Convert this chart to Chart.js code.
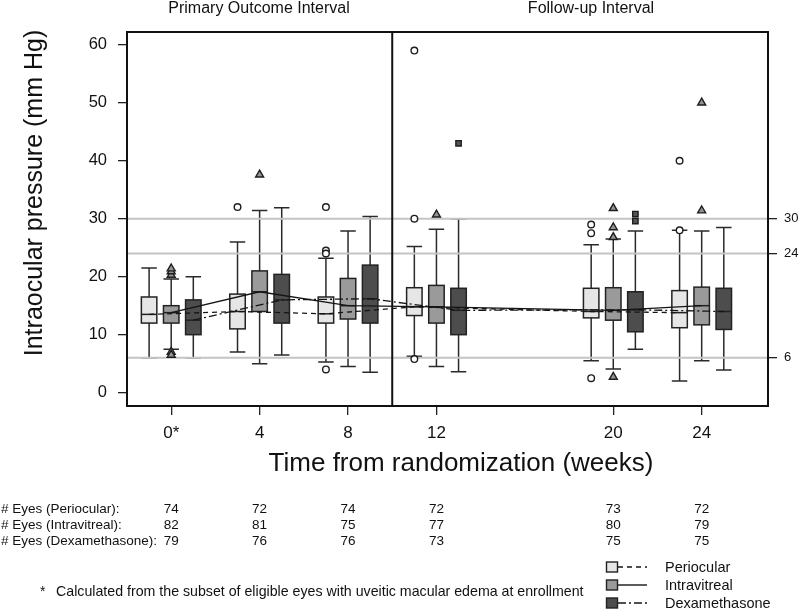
<!DOCTYPE html>
<html>
<head>
<meta charset="utf-8">
<script src="https://cdn.jsdelivr.net/npm/chart.js@4/dist/chart.umd.min.js"></script>
<style>
  html, body { margin:0; padding:0; background:#fff; }
  #wrap { position:relative; width:800px; height:609px; font-family:"Liberation Sans", Arial, Helvetica, sans-serif; color:#111; }
  #chartBox { position:absolute; left:0; top:0; width:800px; height:609px; }
  .t { position:absolute; white-space:nowrap; line-height:1; }
  .c { transform:translate(-50%,-50%); }
  .l { transform:translate(0,-50%); }
</style>
</head>
<body>
<div id="wrap">
  <div id="chartBox"><canvas id="chart"></canvas></div>
  <div class="t c" style="left:259px;top:8px;font-size:16px;">Primary Outcome Interval</div>
  <div class="t c" style="left:591px;top:8px;font-size:16px;">Follow-up Interval</div>
  <div class="t" style="left:33px;top:193px;font-size:25px;transform:translate(-50%,-50%) rotate(-90deg);">Intraocular pressure (mm Hg)</div>
  <div class="t c" style="left:461px;top:462px;font-size:26px;">Time from randomization (weeks)</div>
  <div id="table"></div>
  <div class="t l" style="left:40px;top:591px;font-size:14px;">*</div>
  <div class="t l" style="left:56px;top:591px;font-size:14.2px;">Calculated from the subset of eligible eyes with uveitic macular edema at enrollment</div>
  <div id="legend"></div>
</div>
<script>
// ---- data ----
const weeks = [0, 4, 8, 12, 20, 24];
const weekLabels = ['0*', '4', '8', '12', '20', '24'];
const yTicks = [0, 10, 20, 30, 40, 50, 60];
const refLines = [6, 24, 30];
const intervalSplit = 10;

// Periocular box statistics (whisker low, Q1, median, Q3, whisker high)
const periLow    = [6.0, 7.0, 5.3, 6.3, 5.5, 2.0];
const periQ1     = [12.0, 11.0, 12.0, 13.3, 12.9, 11.2];
const periMedian = [13.5, 14.0, 13.6, 14.8, 14.0, 13.8];
const periQ3     = [16.5, 17.0, 16.5, 18.1, 18.0, 17.6];
const periHigh   = [21.5, 26.0, 23.2, 25.2, 25.5, 28.0];
const periOutWeeks  = [4, 8, 8, 8, 8, 12, 12, 12, 20, 20, 20, 24, 24];
const periOutValues = [32, 32, 24.5, 24.0, 4.0, 59, 30, 5.8, 29, 27.5, 2.5, 40, 28];

// Intravitreal
const intraLow    = [7.5, 5.0, 4.5, 4.5, 4.1, 5.5];
const intraQ1     = [12.0, 14.0, 12.7, 12.0, 12.5, 11.7];
const intraMedian = [13.8, 17.4, 15.0, 14.8, 14.2, 15.0];
const intraQ3     = [15.0, 21.0, 19.7, 18.5, 18.1, 18.2];
const intraHigh   = [19.6, 31.4, 27.9, 28.2, 26.5, 27.9];
const intraOutWeeks  = [0, 0, 0, 0, 0, 4, 12, 20, 20, 20, 20, 24, 24];
const intraOutValues = [20.3, 20.9, 21.4, 7.0, 6.5, 37.6, 30.7, 31.8, 28.5, 26.8, 2.7, 50, 31.4];

// Dexamethasone
const dexLow    = [6.0, 6.5, 3.5, 3.6, 7.5, 3.9];
const dexQ1     = [10.0, 12.0, 12.0, 10.0, 10.5, 10.9];
const dexMedian = [12.5, 16.0, 16.2, 14.2, 14.3, 14.0];
const dexQ3     = [16.0, 20.4, 22.0, 18.0, 17.4, 18.0];
const dexHigh   = [20.0, 31.9, 30.4, 30.0, 27.9, 28.5];
const dexOutWeeks  = [12, 20, 20];
const dexOutValues = [43, 30.8, 29.6];

// Number of eyes
const eyesPeri  = [74, 72, 74, 72, 73, 72];
const eyesIntra = [82, 81, 75, 77, 80, 79];
const eyesDex   = [79, 76, 76, 73, 75, 75];

// ---- styling / layout ----
const groups = [
  { name:'Periocular', offset:-1, fill:'#e6e6e6', low:periLow, q1:periQ1, med:periMedian, q3:periQ3, high:periHigh,
    outW:periOutWeeks, outV:periOutValues, dash:[5,4], pStyle:'circle', pRad:3.3, pFill:'#ffffff', eyes:eyesPeri },
  { name:'Intravitreal', offset:0, fill:'#9a9a9a', low:intraLow, q1:intraQ1, med:intraMedian, q3:intraQ3, high:intraHigh,
    outW:intraOutWeeks, outV:intraOutValues, dash:[], pStyle:'triangle', pRad:4.6, pFill:'#949494', eyes:eyesIntra },
  { name:'Dexamethasone', offset:1, fill:'#4d4d4d', low:dexLow, q1:dexQ1, med:dexMedian, q3:dexQ3, high:dexHigh,
    outW:dexOutWeeks, outV:dexOutValues, dash:[8,3,2,3], pStyle:'rect', pRad:3.8, pFill:'#555555', eyes:eyesDex }
];
const boxWidthWeeks = 0.7;
const FONT = '"Liberation Sans", Arial, Helvetica, sans-serif';

const boxPlugin = {
  id:'boxPlugin',
  beforeDatasetsDraw(chart) {
    const { ctx, chartArea:a, scales:{ x, y } } = chart;
    ctx.save();
    const half = (x.getPixelForValue(boxWidthWeeks) - x.getPixelForValue(0)) / 2;
    groups.forEach(g => {
      weeks.forEach((w, i) => {
        const cx = x.getPixelForValue(w + g.offset);
        const yl = y.getPixelForValue(g.low[i]), y1 = y.getPixelForValue(g.q1[i]);
        const ym = y.getPixelForValue(g.med[i]), y3 = y.getPixelForValue(g.q3[i]);
        const yh = y.getPixelForValue(g.high[i]);
        ctx.strokeStyle = '#2a2a2a';
        ctx.lineWidth = 1.5;
        ctx.beginPath();
        ctx.moveTo(cx, y3); ctx.lineTo(cx, yh);
        ctx.moveTo(cx - half, yh); ctx.lineTo(cx + half, yh);
        ctx.moveTo(cx, y1); ctx.lineTo(cx, yl);
        ctx.moveTo(cx - half, yl); ctx.lineTo(cx + half, yl);
        ctx.stroke();
        ctx.fillStyle = g.fill;
        ctx.fillRect(cx - half, y3, 2 * half, y1 - y3);
        ctx.strokeStyle = '#222';
        ctx.strokeRect(cx - half, y3, 2 * half, y1 - y3);
        ctx.beginPath();
        ctx.moveTo(cx - half, ym); ctx.lineTo(cx + half, ym);
        ctx.stroke();
      });
    });
    // reference lines
    ctx.strokeStyle = '#c4c4c4';
    ctx.lineWidth = 2;
    refLines.forEach(v => {
      const py = y.getPixelForValue(v);
      ctx.beginPath(); ctx.moveTo(a.left, py); ctx.lineTo(a.right, py); ctx.stroke();
    });
    ctx.restore();
  },
  afterDatasetsDraw(chart) {
    const { ctx, chartArea:a, scales:{ x } } = chart;
    ctx.save();
    ctx.strokeStyle = '#111';
    ctx.lineWidth = 2;
    ctx.strokeRect(a.left, a.top, a.right - a.left, a.bottom - a.top);
    const sx = x.getPixelForValue(intervalSplit);
    ctx.beginPath(); ctx.moveTo(sx, a.top); ctx.lineTo(sx, a.bottom); ctx.stroke();
    ctx.restore();
  }
};

const datasets = [];
groups.forEach(g => {
  datasets.push({
    type:'line', label:g.name + ' median',
    data: weeks.map((w, i) => ({ x: w + g.offset, y: g.med[i] })),
    borderColor:'#151515', borderWidth:1.3, borderDash:g.dash, pointRadius:0, fill:false, tension:0
  });
});
groups.forEach(g => {
  datasets.push({
    type:'scatter', label:g.name + ' outliers',
    data: g.outW.map((w, i) => ({ x: w + g.offset, y: g.outV[i] })),
    pointStyle:g.pStyle, pointRadius:g.pRad, backgroundColor:g.pFill, borderColor:'#1e1e1e', borderWidth:1.4
  });
});

const chart = new Chart(document.getElementById('chart'), {
  type:'scatter',
  data:{ datasets },
  options:{
    responsive:true, maintainAspectRatio:false, animation:false,
    layout:{ padding:{ top:32, bottom:163, left:0, right:0 } },
    plugins:{ legend:{ display:false }, tooltip:{ enabled:false } },
    scales:{
      x:{
        type:'linear', min:-2, max:27,
        afterBuildTicks:s => { s.ticks = weeks.map(v => ({ value:v })); },
        afterFit:s => { s.height = 40; },
        ticks:{ font:{ family:FONT, size:17 }, color:'#111', padding:8, autoSkip:false, maxRotation:0,
          callback:v => weekLabels[weeks.indexOf(v)] },
        grid:{ drawOnChartArea:false, drawTicks:true, tickLength:9, color:'#222', lineWidth:1.3 },
        border:{ display:false }
      },
      y:{
        type:'linear', position:'left', min:-2.3, max:62.2,
        afterBuildTicks:s => { s.ticks = yTicks.map(v => ({ value:v })); },
        afterFit:s => { s.width = 127; },
        ticks:{ font:{ family:FONT, size:16.5 }, color:'#111', padding:11, callback:v => String(v) },
        grid:{ drawOnChartArea:false, drawTicks:true, tickLength:9, color:'#222', lineWidth:1.3 },
        border:{ display:false }
      },
      y2:{
        type:'linear', position:'right', min:-2.3, max:62.2,
        afterBuildTicks:s => { s.ticks = refLines.map(v => ({ value:v })); },
        afterFit:s => { s.width = 32; },
        ticks:{ font:{ family:FONT, size:13 }, color:'#111', padding:7, callback:v => String(v) },
        grid:{ drawOnChartArea:false, drawTicks:true, tickLength:9, color:'#222', lineWidth:1.3 },
        border:{ display:false }
      }
    }
  },
  plugins:[boxPlugin]
});

// ---- table of eye counts (HTML text aligned to x scale) ----
const tbl = document.getElementById('table');
const rowY = [509, 525, 541];
const rowLabels = ['# Eyes (Periocular):', '# Eyes (Intravitreal):', '# Eyes (Dexamethasone):'];
groups.forEach((g, r) => {
  const lab = document.createElement('div');
  lab.className = 't l'; lab.style.left = '1px'; lab.style.top = rowY[r] + 'px'; lab.style.fontSize = '13.5px';
  lab.textContent = rowLabels[r];
  tbl.appendChild(lab);
  weeks.forEach((w, i) => {
    const d = document.createElement('div');
    d.className = 't c'; d.style.left = chart.scales.x.getPixelForValue(w) + 'px';
    d.style.top = rowY[r] + 'px'; d.style.fontSize = '13.5px';
    d.textContent = String(g.eyes[i]);
    tbl.appendChild(d);
  });
});

// ---- legend ----
const leg = document.getElementById('legend');
const legY = [567, 585, 603];
groups.forEach((g, r) => {
  const icon = document.createElementNS('http://www.w3.org/2000/svg', 'svg');
  icon.setAttribute('width', '46'); icon.setAttribute('height', '14');
  icon.style.position = 'absolute'; icon.style.left = '605px'; icon.style.top = (legY[r] - 7) + 'px';
  const dashAttr = g.dash.length ? ' stroke-dasharray="' + g.dash.join(',') + '"' : '';
  icon.innerHTML = '<line x1="13" y1="7" x2="42" y2="7" stroke="#151515" stroke-width="1.4"' + dashAttr + '/>' +
    '<rect x="1.5" y="2" width="11" height="10" fill="' + g.fill + '" stroke="#222" stroke-width="1.4"/>';
  leg.appendChild(icon);
  const t = document.createElement('div');
  t.className = 't l'; t.style.left = '665px'; t.style.top = legY[r] + 'px'; t.style.fontSize = '14.5px';
  t.textContent = g.name;
  leg.appendChild(t);
});
</script>
</body>
</html>
